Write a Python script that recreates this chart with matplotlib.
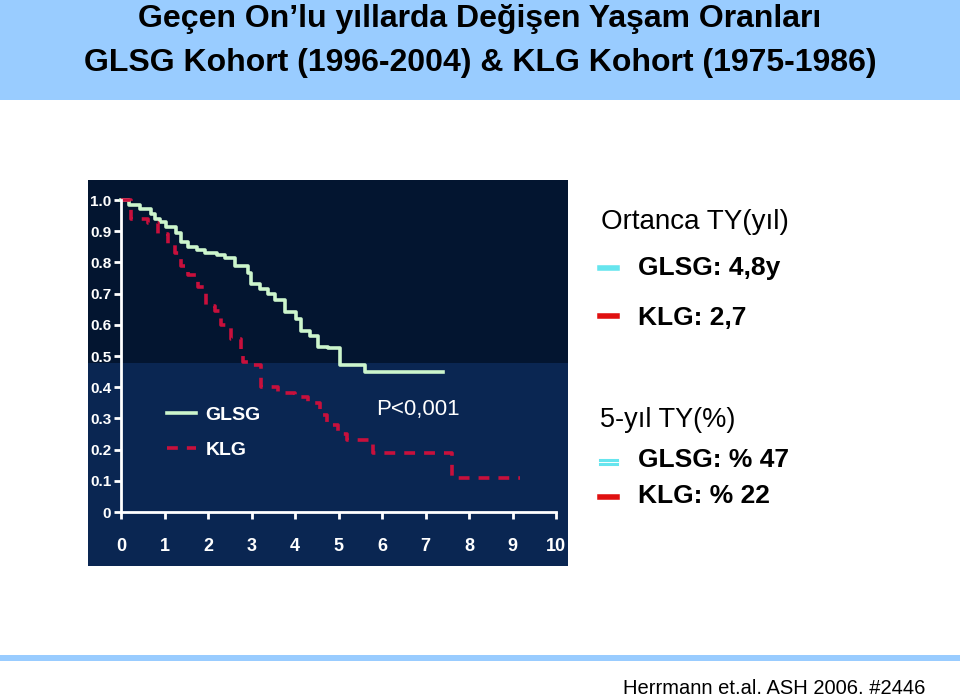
import matplotlib
matplotlib.use('Agg')
import matplotlib.pyplot as plt
from matplotlib.patches import Rectangle
from matplotlib.lines import Line2D

plt.rcParams['font.family'] = ['Liberation Sans', 'DejaVu Sans']

# survival data (years, fraction surviving)
glsg_t = [0, 0.18, 0.44, 0.69, 0.78, 0.9, 1.03, 1.26, 1.38, 1.54, 1.75, 1.93, 2.2, 2.39,
          2.62, 2.92, 2.99, 3.2, 3.38, 3.54, 3.77, 4.03, 4.14, 4.34, 4.53, 4.76, 5.03, 5.6, 7.4]
glsg_s = [1.0, 0.985, 0.97, 0.955, 0.94, 0.93, 0.915, 0.895, 0.865, 0.85, 0.84, 0.83, 0.825, 0.815,
          0.79, 0.765, 0.73, 0.715, 0.70, 0.68, 0.64, 0.62, 0.58, 0.565, 0.53, 0.525, 0.47, 0.45, 0.45]
klg_t = [0, 0.23, 0.62, 0.85, 1.08, 1.25, 1.38, 1.55, 1.77, 1.95, 2.16, 2.3, 2.53, 2.76, 2.8,
         3.0, 3.22, 3.6, 4.0, 4.3, 4.57, 4.74, 4.99, 5.2, 5.8, 7.6, 9.17]
klg_s = [1.0, 0.94, 0.925, 0.89, 0.86, 0.83, 0.79, 0.76, 0.72, 0.66, 0.645, 0.6, 0.555, 0.52, 0.48,
         0.47, 0.40, 0.38, 0.37, 0.35, 0.31, 0.28, 0.25, 0.23, 0.19, 0.11, 0.11]
x_ticks = list(range(0, 11))
y_ticks = [0, 0.1, 0.2, 0.3, 0.4, 0.5, 0.6, 0.7, 0.8, 0.9, 1.0]
y_labels = ['0', '0.1', '0.2', '0.3', '0.4', '0.5', '0.6', '0.7', '0.8', '0.9', '1.0']

W, H = 960, 699
fig = plt.figure(figsize=(9.6, 6.99), dpi=100)
fig.patch.set_facecolor('white')

def box(x0, y0, x1, y1, color):
    # rectangle given in pixel coords from the top-left
    fig.patches.append(Rectangle((x0 / W, 1 - y1 / H), (x1 - x0) / W, (y1 - y0) / H,
                                 transform=fig.transFigure, facecolor=color,
                                 edgecolor='none', zorder=-5))

# title banner and footer line
box(0, 0, W, 100, '#99ccff')
box(0, 655, W, 661, '#99ccff')
fig.text(0.5, 1 - 19 / H, 'Geçen On’lu yıllarda Değişen Yaşam Oranları', ha='center', va='center',
         fontsize=23, fontweight='bold', color='black')
fig.text(0.5, 1 - 63 / H, 'GLSG Kohort (1996-2004) & KLG Kohort (1975-1986)', ha='center',
         va='center', fontsize=23, fontweight='bold', color='black')
fig.text(925 / W, 1 - 688 / H, 'Herrmann et.al. ASH 2006. #2446', ha='right', va='center',
         fontsize=14.5, color='black')

# dark panel behind the plot
box(88, 180, 568, 566, '#031530')
box(88, 363, 568, 566, '#0a2652')

ax = fig.add_axes([121 / W, 1 - 512 / H, 435 / W, 312 / H])
ax.set_zorder(2)
ax.set_facecolor('none')
ax.step(glsg_t, glsg_s, where='post', color='#ccf5cc', lw=2.6, label='GLSG', clip_on=False)
ax.step(klg_t, klg_s, where='post', color='#c8103c', lw=2.6, linestyle=(0, (3, 2.5)),
        label='KLG', clip_on=False)
ax.set_xlim(0, 10)
ax.set_ylim(0, 1.0)
ax.set_xticks(x_ticks)
ax.set_yticks(y_ticks)
ax.set_yticklabels(y_labels)
for s in ['top', 'right']:
    ax.spines[s].set_visible(False)
for s in ['left', 'bottom']:
    ax.spines[s].set_color('white')
    ax.spines[s].set_linewidth(2)
ax.tick_params(colors='white', width=2, length=5)
ax.tick_params(axis='x', pad=14, labelsize=13)
ax.tick_params(axis='y', pad=2, labelsize=11)
for lab in ax.get_xticklabels() + ax.get_yticklabels():
    lab.set_fontweight('bold')

leg = ax.legend(loc='upper left', bbox_to_anchor=(0.065, 0.395), frameon=False, handlelength=1.5,
                handletextpad=0.5, labelspacing=0.9, prop={'size': 14, 'weight': 'bold'})
for t in leg.get_texts():
    t.set_color('white')
ax.text(6.83, 0.327, 'P<0,001', color='white', fontsize=16, ha='center', va='center')

# right side summary text
def dash(y, color, double=False):
    ys = [y - 2, y + 2] if double else [y]
    for yy in ys:
        fig.lines.append(Line2D([600 / W, 617 / W], [1 - yy / H] * 2, color=color,
                                lw=2.2 if double else 4, transform=fig.transFigure))

fig.text(601 / W, 1 - 222 / H, 'Ortanca TY(yıl)', fontsize=20, va='center', color='black')
dash(268, '#66e5ee')
fig.text(638 / W, 1 - 268 / H, 'GLSG: 4,8y', fontsize=19, fontweight='bold', va='center')
dash(316, '#e01010')
fig.text(638 / W, 1 - 318 / H, 'KLG: 2,7', fontsize=19, fontweight='bold', va='center')
fig.text(600 / W, 1 - 420 / H, '5-yıl TY(%)', fontsize=19.5, va='center', color='black')
dash(462, '#66e5ee', double=True)
fig.text(638 / W, 1 - 460 / H, 'GLSG: % 47', fontsize=19, fontweight='bold', va='center')
dash(497, '#e01010')
fig.text(638 / W, 1 - 496 / H, 'KLG: % 22', fontsize=19, fontweight='bold', va='center')

fig.savefig('out.png', dpi=100, facecolor=fig.get_facecolor())
